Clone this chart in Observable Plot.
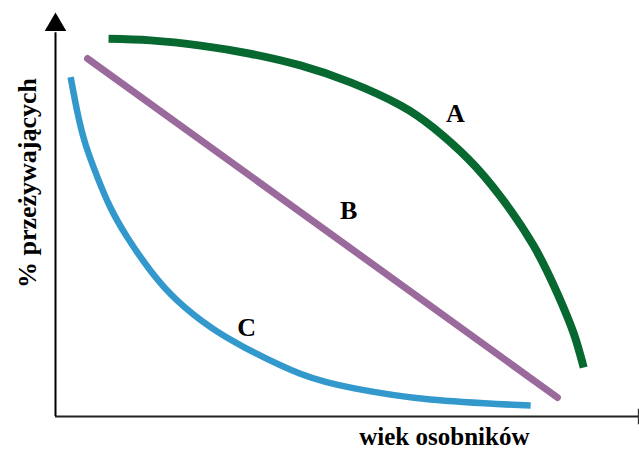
<!DOCTYPE html>
<html>
<head>
<meta charset="utf-8">
<script src="https://cdn.jsdelivr.net/npm/d3@7"></script>
<script src="https://cdn.jsdelivr.net/npm/@observablehq/plot@0.6"></script>
<style>
  html, body { margin: 0; padding: 0; background: #fff; }
</style>
</head>
<body>
<div id="chart"></div>
<script>
// Age (0–100) and % surviving (0–100)
const ageA = [9.1, 16.3, 24.9, 33.4, 42.0, 50.6, 59.2, 64.8, 70.7, 76.3, 82.0, 86.1, 88.9, 90.6];
const survA = [93.5, 93.1, 91.8, 89.8, 86.9, 82.7, 77.0, 71.5, 63.9, 54.5, 42.3, 30.4, 20.5, 12.1];

const ageB = [5.5, 86.1];
const survB = [88.6, 4.7];

const ageC = [2.6, 3.7, 5.1, 7.2, 9.4, 12.3, 16.3, 20.9, 26.6, 32.3, 42.0, 51.5, 64.3, 81.5];
const survC = [84.0, 75.7, 67.6, 59.2, 51.8, 44.4, 36.1, 28.7, 22.1, 17.2, 10.6, 6.9, 4.2, 2.7];

const curveNames = ["A", "B", "C"];
const curveColors = ["#076830", "#9a6a9c", "#3399cc"];
const labelAge = [68.6, 50.3, 32.8];
const labelSurv = [75.0, 51.0, 22.0];

const yTitle = "% przeżywających";
const xTitle = "wiek osobników";

const toRows = (xs, ys) => xs.map((x, i) => ({x, y: ys[i]}));
const rowsA = toRows(ageA, survA);
const rowsB = toRows(ageB, survB);
const rowsC = toRows(ageC, survC);
const labels = curveNames.map((n, i) => ({name: n, x: labelAge[i], y: labelSurv[i]}));

const serif = "'Liberation Serif', 'DejaVu Serif', serif";

const chart = Plot.plot({
  width: 639,
  height: 451,
  marginLeft: 55,
  marginRight: 1,
  marginTop: 12,
  marginBottom: 35,
  x: {domain: [0, 100], axis: null},
  y: {domain: [0, 100], axis: null},
  marks: [
    // axes
    Plot.ruleY([0], {x1: 0, x2: 100, stroke: "#222", strokeWidth: 2}),
    Plot.ruleX([0], {y1: 0, y2: 95, stroke: "#000", strokeWidth: 2}),
    Plot.dot([{x: 0, y: 100}], {x: "x", y: "y", symbol: "triangle", r: 8, fill: "#000", stroke: "none", dy: 12.4}),
    Plot.dot([{x: 100, y: 0}], {x: "x", y: "y", symbol: "triangle", r: 6, fill: "#333", stroke: "none", rotate: 90, dx: 4}),
    // curves
    Plot.line(rowsC, {x: "x", y: "y", stroke: curveColors[2], strokeWidth: 6.5, curve: "natural", strokeLinecap: "butt"}),
    Plot.line(rowsB, {x: "x", y: "y", stroke: curveColors[1], strokeWidth: 7, strokeLinecap: "round"}),
    Plot.line(rowsA, {x: "x", y: "y", stroke: curveColors[0], strokeWidth: 8, curve: "natural", strokeLinecap: "butt"}),
    // curve labels
    Plot.text(labels, {x: "x", y: "y", text: "name", fontSize: 26, fontWeight: "bold", fontFamily: serif, fill: "#000"}),
    // axis titles
    Plot.text([yTitle], {x: 0, y: 57.8, text: d => d, rotate: -90, dx: -28, fontSize: 26, fontWeight: "bold", fontFamily: serif, fill: "#000"}),
    Plot.text([xTitle], {x: 66.7, y: 0, text: d => d, dy: 20, fontSize: 25, fontWeight: "bold", fontFamily: serif, fill: "#000"})
  ]
});

document.getElementById("chart").appendChild(chart);
</script>
</body>
</html>
